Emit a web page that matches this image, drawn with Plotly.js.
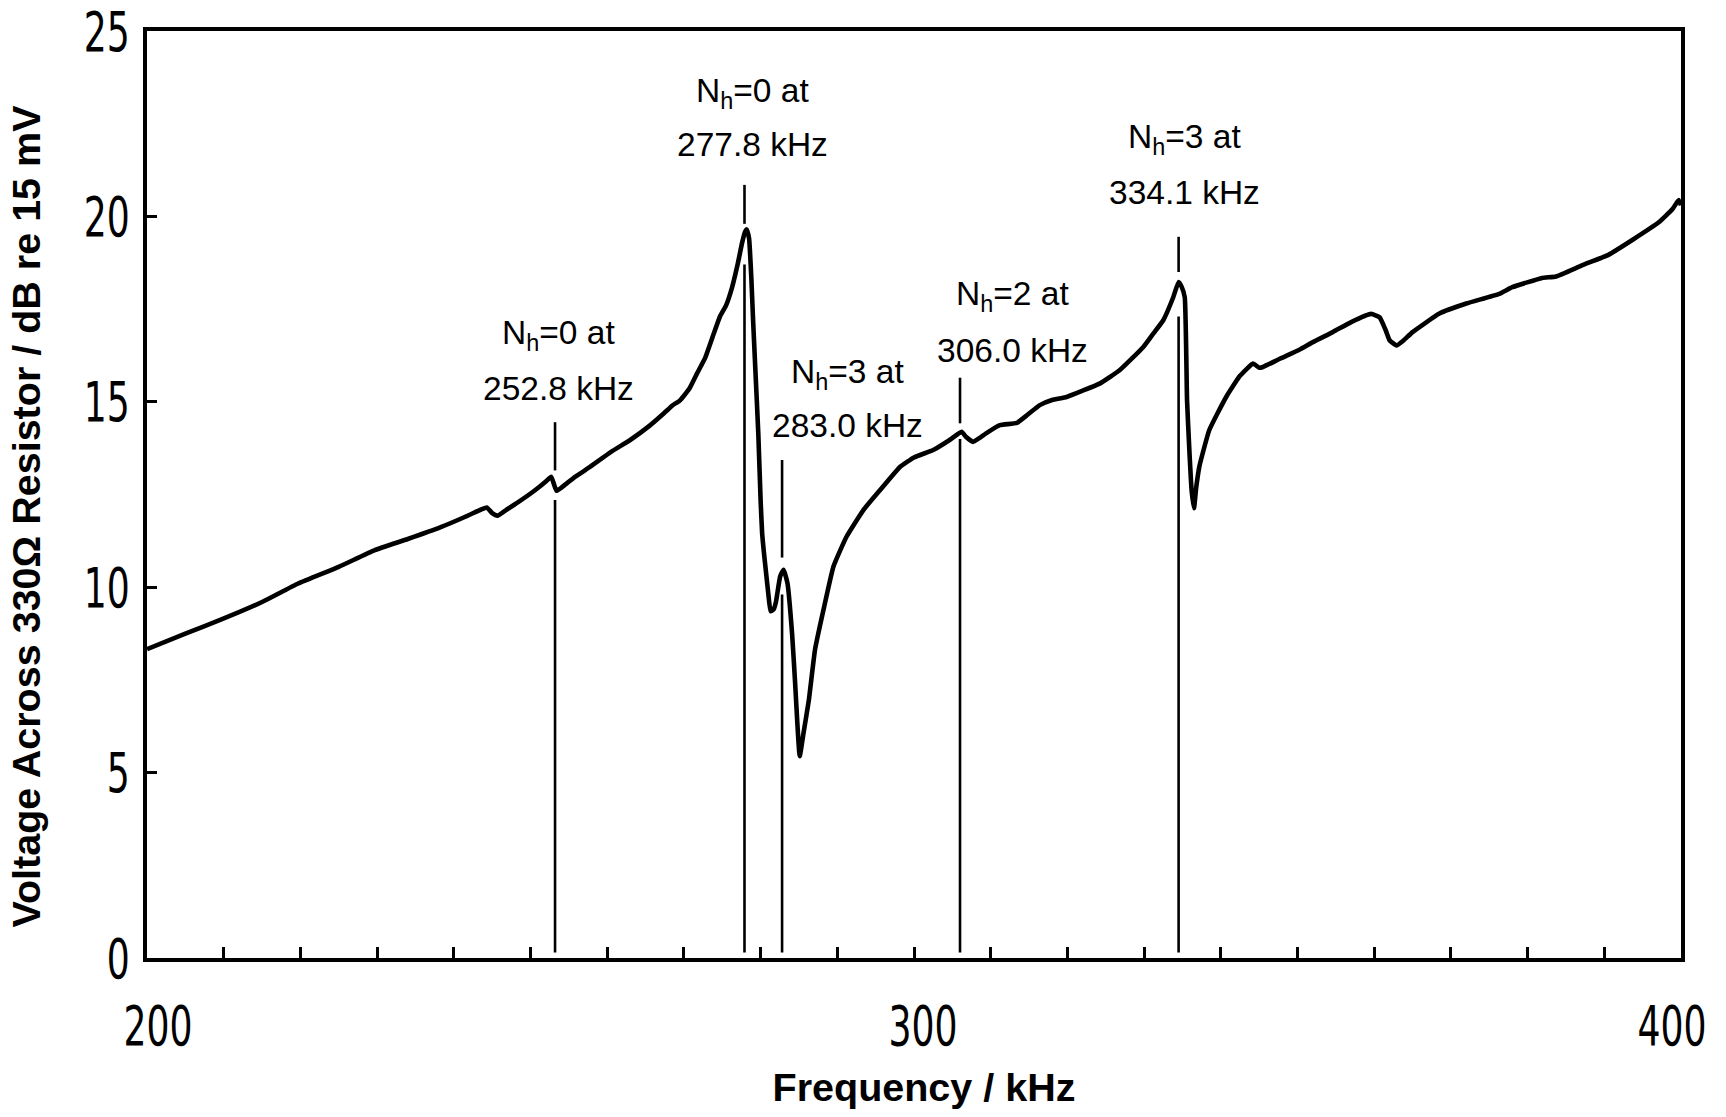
<!DOCTYPE html>
<html><head><meta charset="utf-8">
<script src="https://cdn.plot.ly/plotly-3.0.1.min.js"></script>
<style>html,body{margin:0;padding:0;background:#fff;} #chart{width:1726px;height:1117px;}</style>
</head><body><div id="chart"></div>
<script>
// ---- data ----
const freqKHz = [200, 205, 209.7, 215, 219.7, 225, 229.7, 234, 238.3, 241.5, 243.6, 244.3, 245.0, 245.7, 246.8, 248.3, 250.5, 252.0, 252.7, 253.1, 253.4, 254.0, 254.6, 256.0, 257.8, 260.5, 263.0, 265.5, 267.4, 268.5, 269.5, 270.7, 271.7, 272.8, 273.9, 274.7, 275.5, 276.3, 277.0, 277.6, 278.0, 278.2, 278.5, 278.8, 279.0, 279.3, 279.7, 280.0, 280.2, 280.5, 281.0, 281.3, 281.7, 282.0, 282.55, 283.0, 283.5, 284.1, 284.5, 284.8, 285.1, 285.6, 286.3, 287.1, 288.2, 289.5, 291.2, 293.4, 295.5, 298.2, 300.0, 302.5, 304.5, 306.2, 306.8, 307.7, 308.5, 309.4, 311.2, 313.4, 314.8, 316.4, 318.0, 319.9, 322.0, 324.2, 326.8, 329.9, 331.2, 332.5, 333.8, 334.5, 334.9, 335.3, 335.6, 335.9, 336.2, 336.5, 336.8, 337.2, 338.5, 340.7, 342.5, 344.2, 345.0, 345.5, 347.7, 350.3, 352.0, 354.6, 357.0, 359.6, 360.7, 361.5, 362.0, 362.9, 363.8, 365.0, 368.5, 372.0, 376.3, 378.0, 381.9, 383.7, 387.1, 390.6, 393.7, 397.1, 398.9, 399.7, 400.0];
const voltageDB = [8.33, 8.75, 9.13, 9.6, 10.1, 10.55, 11.0, 11.3, 11.62, 11.9, 12.1, 12.15, 12.0, 11.93, 12.08, 12.28, 12.6, 12.85, 12.98, 12.75, 12.6, 12.68, 12.78, 13.0, 13.25, 13.65, 13.97, 14.35, 14.69, 14.9, 15.04, 15.35, 15.76, 16.2, 16.84, 17.3, 17.6, 18.1, 18.7, 19.3, 19.6, 19.65, 19.4, 18.3, 17.3, 15.94, 14.15, 12.35, 11.46, 10.8, 9.84, 9.35, 9.4, 9.6, 10.29, 10.47, 10.11, 8.76, 7.42, 6.3, 5.44, 6.07, 6.97, 8.32, 9.39, 10.56, 11.36, 12.08, 12.6, 13.25, 13.5, 13.7, 13.95, 14.19, 14.05, 13.92, 14.02, 14.15, 14.37, 14.43, 14.65, 14.91, 15.05, 15.13, 15.3, 15.49, 15.85, 16.48, 16.84, 17.2, 17.82, 18.23, 18.1, 17.82, 15.04, 13.7, 12.6, 12.13, 12.7, 13.25, 14.24, 15.13, 15.7, 16.03, 15.92, 15.94, 16.16, 16.41, 16.61, 16.88, 17.15, 17.37, 17.28, 16.93, 16.66, 16.52, 16.65, 16.88, 17.38, 17.65, 17.91, 18.09, 18.34, 18.38, 18.68, 18.97, 19.37, 19.84, 20.2, 20.44, 20.3];

// resonance marker lines (frequency, upper short tick, long line down to axis)
const markerFreqKHz   = [253.2, 277.9, 282.8, 306.0, 334.5];
const markerUpperTop  = [14.45, 20.85, 13.43, 15.65, 19.45];
const markerUpperBot  = [13.15, 19.8, 10.8, 14.42, 18.5];
const markerLowerTop  = [12.35, 18.7, 9.8, 14.0, 17.3];
const markerLowerBot  = [0.15, 0.15, 0.15, 0.15, 0.15];

// labels
const labelLine1 = ['N<sub>h</sub>=0 at', 'N<sub>h</sub>=0 at', 'N<sub>h</sub>=3 at', 'N<sub>h</sub>=2 at', 'N<sub>h</sub>=3 at'];
const labelLine2 = ['252.8 kHz', '277.8 kHz', '283.0 kHz', '306.0 kHz', '334.1 kHz'];
const labelX  = [253.6, 278.9, 291.3, 312.9, 335.3];
const labelY1 = [16.79, 23.32, 15.74, 17.84, 22.1];
const labelY2 = [15.35, 21.95, 14.37, 16.39, 20.65];

const xTickVals = [200, 300, 400];
const xTickText = ['200', '300', '400'];
const yTickVals = [0, 5, 10, 15, 20, 25];
const yTickText = ['0', '5', '10', '15', '20', '25'];

const xTitle = 'Frequency / kHz';
const yTitle = 'Voltage Across 330Ω Resistor / dB re 15 mV';

// ---- build ----
const mx = [], my = [];
for (let i = 0; i < markerFreqKHz.length; i++) {
  mx.push(markerFreqKHz[i], markerFreqKHz[i], null, markerFreqKHz[i], markerFreqKHz[i], null);
  my.push(markerUpperTop[i], markerUpperBot[i], null, markerLowerTop[i], markerLowerBot[i], null);
}

const traces = [
  {x: mx, y: my, type: 'scatter', mode: 'lines', connectgaps: false,
   line: {color: '#000', width: 2.6}, hoverinfo: 'skip', showlegend: false},
  {x: freqKHz, y: voltageDB, type: 'scatter', mode: 'lines',
   line: {color: '#000', width: 4.6, shape: 'spline', smoothing: 0.4}, showlegend: false}
];

const annFont = {family: 'Liberation Sans, Arial, sans-serif', size: 33.5, color: '#000'};
const annotations = [];
for (let i = 0; i < labelLine1.length; i++) {
  annotations.push({x: labelX[i], y: labelY1[i], xref: 'x', yref: 'y', text: labelLine1[i],
    showarrow: false, xanchor: 'center', yanchor: 'middle', font: annFont});
  annotations.push({x: labelX[i], y: labelY2[i], xref: 'x', yref: 'y', text: labelLine2[i],
    showarrow: false, xanchor: 'center', yanchor: 'middle', font: annFont});
}

const tickFont = {family: 'DejaVu Sans Condensed, DejaVu Sans, sans-serif', size: 56, color: '#000'};
const titleFont = {family: 'Liberation Sans, Arial, sans-serif', size: 39.5, color: '#000', weight: 700};

const layout = {
  width: 1726, height: 1117,
  margin: {l: 147, r: 45, t: 31, b: 159, pad: 0},
  paper_bgcolor: '#fff', plot_bgcolor: '#fff',
  showlegend: false,
  xaxis: {
    range: [200, 400], tickmode: 'array', tickvals: xTickVals, ticktext: xTickText,
    ticks: 'inside', ticklen: 11, tickwidth: 3, tickcolor: '#000',
    minor: {dtick: 10, tick0: 200, ticks: 'inside', ticklen: 11, tickwidth: 3, tickcolor: '#000', showgrid: false},
    showline: true, linewidth: 4, linecolor: '#000', mirror: true,
    showgrid: false, zeroline: false, tickfont: tickFont, ticklabelstandoff: 16,
    ticklabeloverflow: 'allow',
    title: {text: xTitle, font: titleFont, standoff: 14}, automargin: false
  },
  yaxis: {
    range: [0, 25], tickmode: 'array', tickvals: yTickVals, ticktext: yTickText,
    ticks: 'inside', ticklen: 10, tickwidth: 3, tickcolor: '#000',
    showline: true, linewidth: 4, linecolor: '#000', mirror: true,
    showgrid: false, zeroline: false, tickfont: tickFont, ticklabelstandoff: 2,
    ticklabeloverflow: 'allow',
    title: {text: yTitle, font: titleFont, standoff: 14}, automargin: false
  },
  annotations: annotations
};

Plotly.newPlot('chart', traces, layout, {staticPlot: true}).then(function (gd) {
  // narrow the condensed tick digits to the reference's tall, narrow numerals
  const xLabelNudge = {'200': 11, '300': 9, '400': -9};
  gd.querySelectorAll('.xtick text, .ytick text').forEach(function (t) {
    const w = t.getComputedTextLength();
    const n = t.textContent.length;
    if (!w || !n) return;
    const s = (n * 23) / w;
    const ax = parseFloat(t.getAttribute('x')) || 0;
    const isX = t.parentNode && t.parentNode.classList.contains('xtick');
    const dx = isX ? (xLabelNudge[t.textContent] || 0) : 0;
    const tr = t.getAttribute('transform') || '';
    t.setAttribute('transform', tr + ' translate(' + (ax + dx) + ',0) scale(' + s.toFixed(3) + ',1) translate(' + (-ax) + ',0)');
  });
  // the reference's axis titles sit a little off their default places
  const yt = gd.querySelector('.ytitle');
  if (yt) {
    const x = parseFloat(yt.getAttribute('x')), y = parseFloat(yt.getAttribute('y')) + 22;
    yt.setAttribute('y', y);
    yt.setAttribute('transform', 'rotate(-90,' + x + ',' + y + ')');
  }
  const xt = gd.querySelector('.xtitle');
  if (xt) {
    xt.setAttribute('x', parseFloat(xt.getAttribute('x')) + 10);
    xt.setAttribute('y', parseFloat(xt.getAttribute('y')) + 3);
  }
});
</script>
</body></html>
